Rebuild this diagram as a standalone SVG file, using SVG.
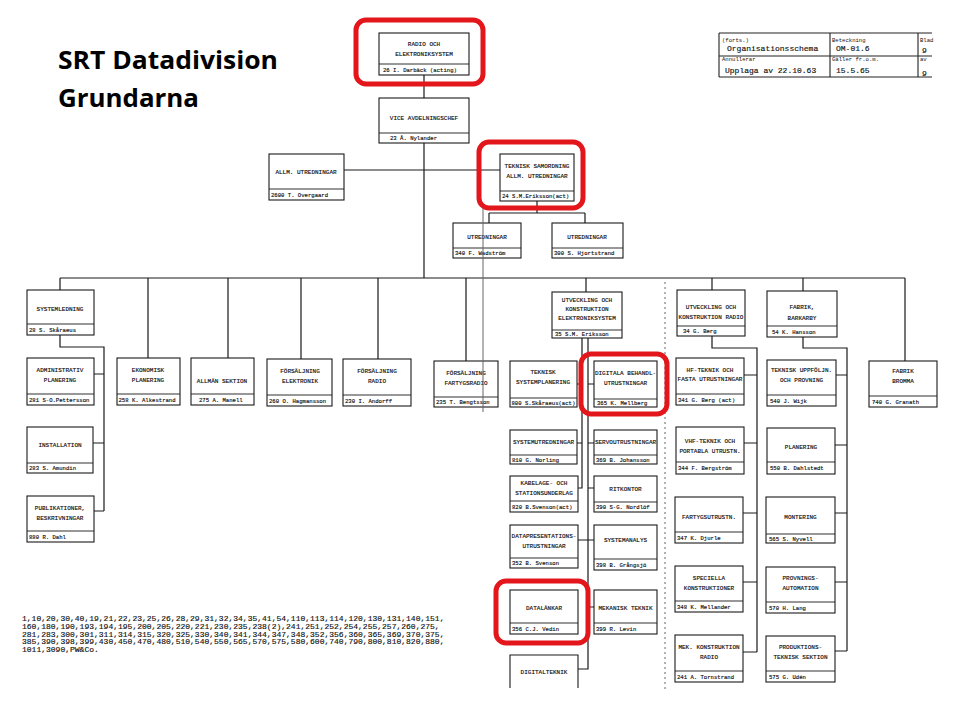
<svg xmlns="http://www.w3.org/2000/svg" width="960" height="720" viewBox="0 0 960 720">
<style>
.b{fill:#fff;stroke:#1a1a1a;stroke-width:1.1}
.d{stroke:#1a1a1a;stroke-width:0.9}
.t{font-family:"Liberation Mono",monospace;font-size:6px;fill:#111;stroke:#111;stroke-width:0.15;text-anchor:middle}
.n{font-family:"Liberation Mono",monospace;font-size:5.6px;fill:#111;stroke:#111;stroke-width:0.15}
.c{fill:none;stroke:#1a1a1a;stroke-width:1.2}
.hl{fill:none;stroke:#e3161c;stroke-width:5}
.tb{fill:none;stroke:#222;stroke-width:1.1}
.tm{font-family:"Liberation Mono",monospace;font-size:8px;fill:#111;stroke:#111;stroke-width:0.15}
.ts{font-family:"Liberation Mono",monospace;font-size:5.6px;fill:#111}
.ti{font-family:"Open Sans","Noto Sans",sans-serif;font-weight:bold;font-size:25px;fill:#000}
.art{fill:none;stroke:#666;stroke-width:1}
</style>
<rect width="960" height="720" fill="#fff"/>
<g id="title">
<text class="ti" x="58" y="69" textLength="220" lengthAdjust="spacingAndGlyphs">SRT Datadivision</text>
<text class="ti" x="58" y="107" textLength="141" lengthAdjust="spacingAndGlyphs">Grundarna</text>
</g>
<g id="header-table">
<path class="tb" d="M719,33 H932 M719,56 H932 M719,77 H932 M719,33 V77 M830,33 V77 M918,33 V77"/>
<text class="ts" x="722" y="42">(forts.)</text>
<text class="tm" x="727" y="51">Organisationsschema</text>
<text class="ts" x="722" y="61">Annullerar</text>
<text class="tm" x="725" y="73">Upplaga av 22.10.63</text>
<text class="ts" x="832" y="42">Beteckning</text>
<text class="tm" x="836" y="51">OM-01.6</text>
<text class="ts" x="832" y="61">Gäller fr.o.m.</text>
<text class="tm" x="836" y="73">15.5.65</text>
<text class="ts" x="920" y="42">Blad</text>
<text class="tm" x="922" y="53">9</text>
<text class="ts" x="920" y="61">av</text>
<text class="tm" x="922" y="76">9</text>
</g>
<g id="connectors">
<path class="c" d="M424,75 V98 M424,143 V278 M344,170 H500 M537,201 V213 M489,213 H585 M489,213 V223 M585,213 V223"/>
<path class="c" d="M60,278 H905 M60,278 V290 M148,278 V358 M228,278 V358 M301,278 V359 M378,278 V359 M466,278 V361 M586,278 V292 M712,278 V290 M803,278 V291 M905,278 V361"/>
<path class="c" d="M60,335 V347 H104 V511 M94,374 H104 M93,443 H104 M94,511 H104"/>
<path class="c" d="M582,338 V488 H578 M577,384 H582 M577,443 H582"/>
<path class="c" d="M588,338 V669 H578 M588,384 H594 M588,443 H594 M588,488 H594 M578,540 H594 M588,607 H594"/>
<path class="c" d="M712,336 V348 H757 V652 M744,375 H757 M744,443 H757 M743,513 H757 M743,582 H757 M743,652 H757"/>
<path class="c" d="M803,337 V348 H847 V651 M836,375 H847 M835,445 H847 M835,513 H847 M835,582 H847 M835,651 H847"/>
</g>
<g id="radio"><rect class="b" x="379" y="33" width="90" height="42"/><line class="d" x1="379" y1="64" x2="469" y2="64"/><text class="t" x="424" y="46">RADIO OCH</text><text class="t" x="424" y="56">ELEKTRONIKSYSTEM</text><text class="n" x="383" y="72">26  I. Darbäck (acting)</text></g>
<g id="vice"><rect class="b" x="379" y="98" width="90" height="45"/><line class="d" x1="379" y1="133" x2="469" y2="133"/><text class="t" x="424" y="120">VICE AVDELNINGSCHEF</text><text class="n" x="390" y="140">23  Å. Nylander</text></g>
<g id="allm"><rect class="b" x="269" y="154" width="75" height="46"/><line class="d" x1="269" y1="189" x2="344" y2="189"/><text class="t" x="306" y="174">ALLM. UTREDNINGAR</text><text class="n" x="271" y="197">2600 T. Overgaard</text></g>
<g id="teknisk-samordning"><rect class="b" x="500" y="154" width="74" height="47"/><line class="d" x1="500" y1="191" x2="574" y2="191"/><text class="t" x="537" y="168">TEKNISK SAMORDNING</text><text class="t" x="537" y="178">ALLM. UTREDNINGAR</text><text class="n" x="502" y="198">24  S.M.Eriksson(act)</text></g>
<g id="utredningar-340"><rect class="b" x="453" y="223" width="68" height="35"/><line class="d" x1="453" y1="248" x2="521" y2="248"/><text class="t" x="487" y="239">UTREDNINGAR</text><text class="n" x="455" y="255">340 F. Wadström</text></g>
<g id="utredningar-300"><rect class="b" x="552" y="223" width="71" height="35"/><line class="d" x1="552" y1="248" x2="623" y2="248"/><text class="t" x="587" y="239">UTREDNINGAR</text><text class="n" x="554" y="255">300 S. Hjortstrand</text></g>
<g id="systemledning"><rect class="b" x="27" y="290" width="67" height="45"/><line class="d" x1="27" y1="324" x2="94" y2="324"/><text class="t" x="60" y="311">SYSTEMLEDNING</text><text class="n" x="29" y="331.5">28  S. Skåraeus</text></g>
<g id="administrativ"><rect class="b" x="27" y="358" width="67" height="47"/><line class="d" x1="27" y1="394" x2="94" y2="394"/><text class="t" x="60" y="372">ADMINISTRATIV</text><text class="t" x="60" y="382">PLANERING</text><text class="n" x="29" y="401.5">281 S-O.Pettersson</text></g>
<g id="installation"><rect class="b" x="27" y="427" width="66" height="46"/><line class="d" x1="27" y1="463" x2="93" y2="463"/><text class="t" x="60" y="447">INSTALLATION</text><text class="n" x="29" y="470">283 S. Amundin</text></g>
<g id="publikationer"><rect class="b" x="27" y="496" width="67" height="46"/><line class="d" x1="27" y1="531" x2="94" y2="531"/><text class="t" x="60" y="510">PUBLIKATIONER,</text><text class="t" x="60" y="520">BESKRIVNINGAR</text><text class="n" x="29" y="538.5">880 R. Dahl</text></g>
<g id="ekonomisk"><rect class="b" x="117" y="358" width="63" height="47"/><line class="d" x1="117" y1="394" x2="180" y2="394"/><text class="t" x="148" y="372">EKONOMISK</text><text class="t" x="148" y="382">PLANERING</text><text class="n" x="118.5" y="401.5">258 K. Alkestrand</text></g>
<g id="allman-sektion"><rect class="b" x="191" y="358" width="63" height="47"/><line class="d" x1="191" y1="394" x2="254" y2="394"/><text class="t" x="222" y="383">ALLMÄN SEKTION</text><text class="n" x="199" y="401.5">275 A. Manell</text></g>
<g id="forsaljning-elektronik"><rect class="b" x="267" y="359" width="65" height="47"/><line class="d" x1="267" y1="395" x2="332" y2="395"/><text class="t" x="300" y="373">FÖRSÄLJNING</text><text class="t" x="300" y="383">ELEKTRONIK</text><text class="n" x="269" y="402.5">260 O. Hagmansson</text></g>
<g id="forsaljning-radio"><rect class="b" x="343" y="359" width="68" height="47"/><line class="d" x1="343" y1="395" x2="411" y2="395"/><text class="t" x="377" y="373">FÖRSÄLJNING</text><text class="t" x="377" y="383">RADIO</text><text class="n" x="345" y="402.5">230  I. Andorff</text></g>
<g id="forsaljning-fartygsradio"><rect class="b" x="434" y="361" width="64" height="46"/><line class="d" x1="434" y1="397" x2="498" y2="397"/><text class="t" x="466" y="375">FÖRSÄLJNING</text><text class="t" x="466" y="385">FARTYGSRADIO</text><text class="n" x="436" y="404">235 T. Bengtsson</text></g>
<g id="utveckling-elektroniksystem"><rect class="b" x="552" y="292" width="70" height="46"/><line class="d" x1="552" y1="330" x2="622" y2="330"/><text class="t" x="587" y="302">UTVECKLING OCH</text><text class="t" x="587" y="311">KONSTRUKTION</text><text class="t" x="587" y="320">ELEKTRONIKSYSTEM</text><text class="n" x="555" y="336">35  S.M. Eriksson</text></g>
<g id="teknisk-systemplanering"><rect class="b" x="510" y="361" width="67" height="46"/><line class="d" x1="510" y1="398" x2="577" y2="398"/><text class="t" x="543" y="374">TEKNISK</text><text class="t" x="543" y="384">SYSTEMPLANERING</text><text class="n" x="511.5" y="404.5">800 S.Skåraeus(act)</text></g>
<g id="digitala-behandl"><rect class="b" x="594" y="361" width="63" height="46"/><line class="d" x1="594" y1="399" x2="657" y2="399"/><text class="t" x="625.5" y="375">DIGITALA BEHANDL-</text><text class="t" x="625.5" y="385">UTRUSTNINGAR</text><text class="n" x="597" y="405">365  K. Mellberg</text></g>
<g id="systemutredningar"><rect class="b" x="510" y="430" width="67" height="34"/><line class="d" x1="510" y1="455" x2="577" y2="455"/><text class="t" x="543.5" y="444">SYSTEMUTREDNINGAR</text><text class="n" x="512" y="461.5">810 G. Norling</text></g>
<g id="servoutrustningar"><rect class="b" x="594" y="430" width="63" height="34"/><line class="d" x1="594" y1="455" x2="657" y2="455"/><text class="t" x="625.5" y="444">SERVOUTRUSTNINGAR</text><text class="n" x="596" y="461.5">369 B. Johansson</text></g>
<g id="kabelage"><rect class="b" x="510" y="476" width="68" height="36"/><line class="d" x1="510" y1="501" x2="578" y2="501"/><text class="t" x="544" y="485">KABELAGE-  OCH</text><text class="t" x="544" y="495">STATIONSUNDERLAG</text><text class="n" x="512" y="508.5">820 B.Svenson(act)</text></g>
<g id="ritkontor"><rect class="b" x="594" y="476" width="63" height="36"/><line class="d" x1="594" y1="502" x2="657" y2="502"/><text class="t" x="625.5" y="491">RITKONTOR</text><text class="n" x="596" y="509">390 S-G. Nordlöf</text></g>
<g id="datapresentations"><rect class="b" x="510" y="525" width="68" height="43"/><line class="d" x1="510" y1="558" x2="578" y2="558"/><text class="t" x="544" y="538">DATAPRESENTATIONS-</text><text class="t" x="544" y="548">UTRUSTNINGAR</text><text class="n" x="512" y="565">352  B. Svenson</text></g>
<g id="systemanalys"><rect class="b" x="594" y="525" width="63" height="45"/><line class="d" x1="594" y1="559" x2="657" y2="559"/><text class="t" x="625.5" y="542">SYSTEMANALYS</text><text class="n" x="596" y="566.5">398  B. Grångsjö</text></g>
<g id="datalankar"><rect class="b" x="510" y="590" width="68" height="44"/><line class="d" x1="510" y1="623" x2="578" y2="623"/><text class="t" x="544" y="610">DATALÄNKAR</text><text class="n" x="512" y="630.5">356 C.J. Vedin</text></g>
<g id="mekanisk-teknik"><rect class="b" x="594" y="590" width="63" height="44"/><line class="d" x1="594" y1="623" x2="657" y2="623"/><text class="t" x="625.5" y="610">MEKANISK TEKNIK</text><text class="n" x="596" y="630.5">399  R. Levin</text></g>
<g id="digitalteknik"><path class="b" d="M510,688 V655 H578 V688"/><text class="t" x="544" y="674">DIGITALTEKNIK</text></g>
<g id="utveckling-radio"><rect class="b" x="677" y="290" width="68" height="46"/><line class="d" x1="677" y1="326" x2="745" y2="326"/><text class="t" x="711" y="309">UTVECKLING  OCH</text><text class="t" x="711" y="319">KONSTRUKTION RADIO</text><text class="n" x="683" y="333">34  G. Berg</text></g>
<g id="hf-teknik"><rect class="b" x="676" y="358" width="68" height="47"/><line class="d" x1="676" y1="394" x2="744" y2="394"/><text class="t" x="710" y="372">HF-TEKNIK  OCH</text><text class="t" x="710" y="381">FASTA UTRUSTNINGAR</text><text class="n" x="678" y="401.5">341 G. Berg (act)</text></g>
<g id="vhf-teknik"><rect class="b" x="676" y="427" width="68" height="47"/><line class="d" x1="676" y1="462" x2="744" y2="462"/><text class="t" x="710" y="443">VHF-TEKNIK OCH</text><text class="t" x="710" y="453">PORTABLA UTRUSTN.</text><text class="n" x="678" y="470">344  F. Bergström</text></g>
<g id="fartygsutrustn"><rect class="b" x="675" y="497" width="68" height="46"/><line class="d" x1="675" y1="532" x2="743" y2="532"/><text class="t" x="709" y="519">FARTYGSUTRUSTN.</text><text class="n" x="677" y="539.5">347  K. Djurle</text></g>
<g id="speciella"><rect class="b" x="675" y="566" width="68" height="46"/><line class="d" x1="675" y1="601" x2="743" y2="601"/><text class="t" x="709" y="580">SPECIELLA</text><text class="t" x="709" y="590">KONSTRUKTIONER</text><text class="n" x="677" y="608.5">348  K. Mellander</text></g>
<g id="mek-konstruktion"><rect class="b" x="675" y="635" width="68" height="47"/><line class="d" x1="675" y1="671" x2="743" y2="671"/><text class="t" x="709" y="649">MEK. KONSTRUKTION</text><text class="t" x="709" y="659">RADIO</text><text class="n" x="677" y="678.5">241 A. Tornstrand</text></g>
<g id="fabrik-barkarby"><rect class="b" x="767" y="291" width="70" height="46"/><line class="d" x1="767" y1="326" x2="837" y2="326"/><text class="t" x="802" y="309">FABRIK,</text><text class="t" x="802" y="320">BARKARBY</text><text class="n" x="772" y="333.5">54  K. Hansson</text></g>
<g id="teknisk-uppfoljn"><rect class="b" x="767" y="360" width="69" height="46"/><line class="d" x1="767" y1="395" x2="836" y2="395"/><text class="t" x="801.5" y="372">TEKNISK UPPFÖLJN.</text><text class="t" x="801.5" y="382">OCH PROVNING</text><text class="n" x="770" y="402.5">540  J. Wijk</text></g>
<g id="planering"><rect class="b" x="767" y="428" width="68" height="46"/><line class="d" x1="767" y1="462" x2="835" y2="462"/><text class="t" x="801" y="449">PLANERING</text><text class="n" x="770" y="470">550 B. Dahlstedt</text></g>
<g id="montering"><rect class="b" x="766" y="497" width="69" height="46"/><line class="d" x1="766" y1="534" x2="835" y2="534"/><text class="t" x="800.5" y="519">MONTERING</text><text class="n" x="769" y="540.5">565  S. Nyvell</text></g>
<g id="provnings-automation"><rect class="b" x="766" y="567" width="69" height="46"/><line class="d" x1="766" y1="602" x2="835" y2="602"/><text class="t" x="800.5" y="580">PROVNINGS-</text><text class="t" x="800.5" y="590">AUTOMATION</text><text class="n" x="769" y="609.5">570  H. Lang</text></g>
<g id="produktionsteknisk"><rect class="b" x="766" y="636" width="69" height="46"/><line class="d" x1="766" y1="671" x2="835" y2="671"/><text class="t" x="800.5" y="649">PRODUKTIONS-</text><text class="t" x="800.5" y="659">TEKNISK SEKTION</text><text class="n" x="769" y="678.5">575  G. Udén</text></g>
<g id="fabrik-bromma"><rect class="b" x="869" y="361" width="68" height="46"/><line class="d" x1="869" y1="396" x2="937" y2="396"/><text class="t" x="903" y="373">FABRIK</text><text class="t" x="903" y="383">BROMMA</text><text class="n" x="872" y="403.5">740  G. Granath</text></g>
<g id="distribution-list">
<text class="tm" x="22" y="621">1,10,20,30,40,19,21,22,23,25,26,28,29,31,32,34,35,41,54,110,113,114,120,130,131,140,151,</text>
<text class="tm" x="22" y="629">160,180,190,193,194,195,200,205,220,221,230,235,238(2),241,251,252,254,255,257,260,275,</text>
<text class="tm" x="22" y="636.5">281,283,300,301,311,314,315,320,325,330,340,341,344,347,348,352,356,360,365,369,370,375,</text>
<text class="tm" x="22" y="644">385,390,398,399,430,450,470,480,510,540,550,565,570,575,580,600,740,790,800,810,820,880,</text>
<text class="tm" x="22" y="651.5">1011,3090,PW&amp;Co.</text>
</g>
<g id="scan-marks">
<path class="art" d="M483,205 V412"/>
<path class="art" stroke-dasharray="2 3" stroke="#aaa" d="M665,282 V690"/>
</g>
<g id="highlights">
<rect class="hl" x="356" y="20" width="127" height="64" rx="10"/>
<rect class="hl" x="479" y="142" width="104" height="66" rx="10"/>
<rect class="hl" x="581" y="354" width="86" height="60" rx="10"/>
<rect class="hl" x="496" y="581" width="92" height="62" rx="10"/>
</g>
</svg>
